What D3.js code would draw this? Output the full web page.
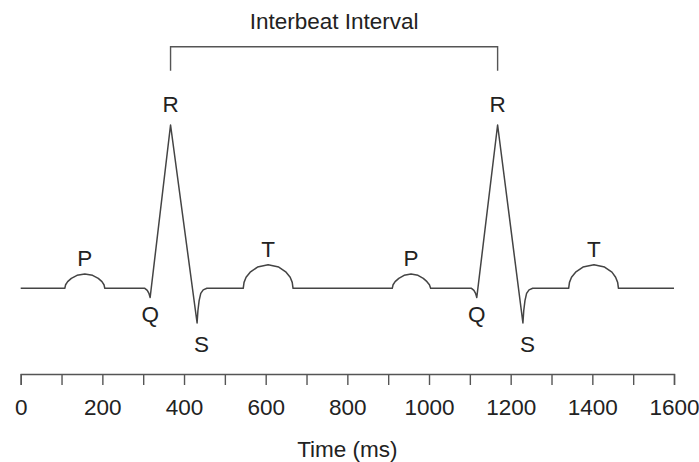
<!DOCTYPE html>
<html>
<head>
<meta charset="utf-8">
<script src="https://cdn.jsdelivr.net/npm/d3@7"></script>
<style>
  html, body { margin: 0; padding: 0; background: #fff; }
  svg { display: block; }
  text { font-family: "Liberation Sans", Arial, Helvetica, sans-serif; fill: #222; }
</style>
</head>
<body>
<script>
// ---- data (time in ms, amplitude in mV) ----
const ecgTime = [
  0,
  108, 110, 115, 124, 138, 157, 176, 190, 199, 204, 206,
  304, 310, 314, 317,
  367,
  432, 434, 437, 441, 447, 456,
  545, 547, 552, 562, 580, 606, 632, 650, 660, 665, 667,
  910, 912, 917, 926, 939, 956, 973, 986, 995, 1001, 1004,
  1104, 1110, 1114, 1117,
  1168,
  1230, 1232, 1235, 1239, 1245, 1254,
  1342, 1344, 1349, 1359, 1377, 1404, 1430, 1448, 1457, 1462, 1464,
  1600
];
const ecgValue = [
  0,
  0, 0.035, 0.065, 0.097, 0.127, 0.14, 0.127, 0.097, 0.065, 0.035, 0,
  0, -0.02, -0.05, -0.09,
  1.6,
  -0.34, -0.22, -0.12, -0.05, -0.015, 0,
  0, 0.058, 0.108, 0.158, 0.208, 0.23, 0.208, 0.158, 0.108, 0.058, 0,
  0, 0.035, 0.065, 0.097, 0.127, 0.14, 0.127, 0.097, 0.065, 0.035, 0,
  0, -0.02, -0.05, -0.09,
  1.6,
  -0.34, -0.22, -0.12, -0.05, -0.015, 0,
  0, 0.058, 0.108, 0.158, 0.208, 0.23, 0.208, 0.158, 0.108, 0.058, 0,
  0
];
const waveLabels = ["P", "Q", "R", "S", "T", "P", "Q", "R", "S", "T"];
const waveLabelTimes = [157, 317, 367, 432, 606, 956, 1117, 1168, 1230, 1404];
const intervalLabel = "Interbeat Interval";
const intervalTimes = [367, 1168];
const tickValues = d3.range(0, 1601, 100);
const tickLabelValues = [0, 200, 400, 600, 800, 1000, 1200, 1400, 1600];
const axisTitle = "Time (ms)";

// ---- drawing ----
const W = 699, H = 462;
const svg = d3.select("body").append("svg").attr("width", W).attr("height", H);

const x = d3.scaleLinear().domain([0, 1600]).range([20.7, 674]);
const y = d3.scaleLinear().domain([0, 1.6]).range([288.3, 125]);

const pts = ecgTime.map((t, i) => [t, ecgValue[i]]);
const line = d3.line().x(d => x(d[0])).y(d => y(d[1])).curve(d3.curveLinear);

svg.append("path")
  .attr("d", line(pts))
  .attr("fill", "none")
  .attr("stroke", "#444")
  .attr("stroke-width", 1.5)
  .attr("stroke-linejoin", "round");

// wave labels
const fs = 22.5;
const offsets = { P: -8.5, T: -8, R: -13.5, Q: 25, S: 29 };
const dxOff = { P: 0, T: 0, R: 0, Q: 0, S: 4.5 };
waveLabels.forEach((lab, i) => {
  const t = waveLabelTimes[i];
  const idx = ecgTime.indexOf(t);
  const v = ecgValue[idx];
  svg.append("text")
    .attr("x", x(t) + dxOff[lab])
    .attr("y", y(v) + offsets[lab])
    .attr("text-anchor", "middle")
    .attr("font-size", fs)
    .text(lab);
});

// interbeat bracket
const bx0 = x(intervalTimes[0]), bx1 = x(intervalTimes[1]);
svg.append("path")
  .attr("d", `M${bx0},70.7V46.7H${bx1}V70.7`)
  .attr("fill", "none")
  .attr("stroke", "#555")
  .attr("stroke-width", 1.4);
svg.append("text")
  .attr("x", (bx0 + bx1) / 2)
  .attr("y", 29)
  .attr("text-anchor", "middle")
  .attr("font-size", fs)
  .text(intervalLabel);

// axis
const axis = d3.axisBottom(x)
  .tickValues(tickValues)
  .tickSize(11)
  .tickSizeOuter(11)
  .tickPadding(14)
  .tickFormat(d => tickLabelValues.includes(d) ? String(d) : "");
const gAxis = svg.append("g").attr("transform", "translate(0,374)").call(axis);
gAxis.select(".domain").attr("stroke", "#555").attr("stroke-width", 1.4);
gAxis.selectAll(".tick line").attr("stroke", "#555").attr("stroke-width", 1.4);
gAxis.selectAll(".tick text")
  .attr("font-size", fs)
  .attr("font-family", "'Liberation Sans', Arial, sans-serif")
  .attr("fill", "#222");

svg.append("text")
  .attr("x", x(800))
  .attr("y", 456.5)
  .attr("text-anchor", "middle")
  .attr("font-size", fs)
  .text(axisTitle);
</script>
</body>
</html>
